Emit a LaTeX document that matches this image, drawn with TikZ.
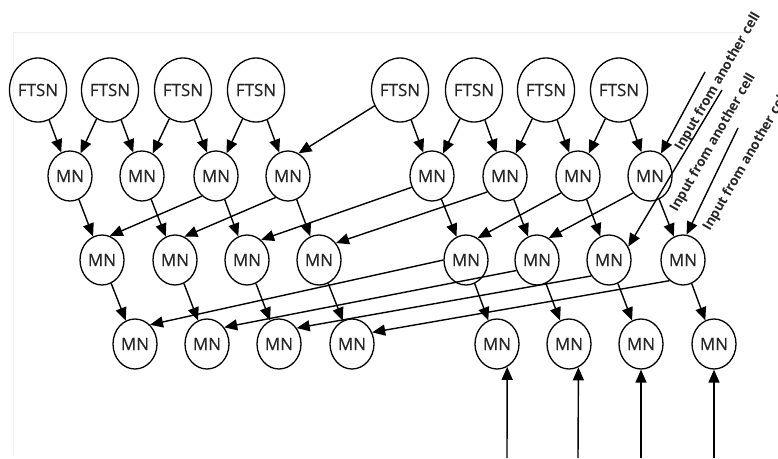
\documentclass[tikz,border=0pt]{standalone}
\usepackage{fontspec}
\setmainfont{Open Sans}
\newfontfamily\labelfont[FakeBold=0.6]{Open Sans}
\usetikzlibrary{shapes.geometric,arrows.meta}

\begin{document}
\begin{tikzpicture}[x=1pt,y=-1pt,
	ftsn/.style={ellipse,draw,line width=1.3pt,minimum width=56pt,minimum height=64pt,inner sep=0pt,font=\labelfont\fontsize{17pt}{20pt}\selectfont,text=black!85},
	mn/.style={ellipse,draw,line width=1.3pt,minimum width=44pt,minimum height=50pt,inner sep=0pt,font=\labelfont\fontsize{17pt}{20pt}\selectfont,text=black!85},
	feed/.style={-{Triangle[length=13pt,width=11pt]},line width=1.4pt},
	celltext/.style={rotate=60,inner sep=0pt,font=\fontsize{13.5pt}{16pt}\selectfont\bfseries,text=black!85}]
		\useasboundingbox (0,0) rectangle (778,458);
		\clip (0,0) rectangle (778,458);
		%faint frame of the scan
		\draw[black!6,line width=1pt] (13,455) -- (13,32) -- (745,32);
		%FTSN row
		\node[ftsn] (f1) at (38,90) {FTSN};
		\node[ftsn] (f2) at (110,90) {FTSN};
		\node[ftsn] (f3) at (183,90) {FTSN};
		\node[ftsn] (f4) at (256,90) {FTSN};
		\node[ftsn] (f5) at (400,90) {FTSN};
		\node[ftsn] (f6) at (474,90) {FTSN};
		\node[ftsn] (f7) at (546,90) {FTSN};
		\node[ftsn] (f8) at (619,90) {FTSN};
		%first MN row
		\node[mn] (a1) at (70,176) {MN};
		\node[mn] (a2) at (142,176) {MN};
		\node[mn] (a3) at (216,176) {MN};
		\node[mn] (a4) at (288,176) {MN};
		\node[mn] (a5) at (432,176) {MN};
		\node[mn] (a6) at (505,176) {MN};
		\node[mn] (a7) at (578,176) {MN};
		\node[mn] (a8) at (650,176) {MN};
		%second MN row
		\node[mn] (b1) at (102,260) {MN};
		\node[mn] (b2) at (175,260) {MN};
		\node[mn] (b3) at (247,260) {MN};
		\node[mn] (b4) at (319,260) {MN};
		\node[mn] (b5) at (466,260) {MN};
		\node[mn] (b6) at (537,260) {MN};
		\node[mn] (b7) at (609,260) {MN};
		\node[mn] (b8) at (683,260) {MN};
		%third MN row
		\node[mn] (c1) at (135,344) {MN};
		\node[mn] (c2) at (207,344) {MN};
		\node[mn] (c3) at (279,344) {MN};
		\node[mn] (c4) at (352,344) {MN};
		\node[mn] (c5) at (497,344) {MN};
		\node[mn] (c6) at (569,344) {MN};
		\node[mn] (c7) at (641,344) {MN};
		\node[mn] (c8) at (714,344) {MN};
		%inputs from another cell
		\coordinate (in1) at (705,72);
		\coordinate (in2) at (722,90);
		\coordinate (in3) at (738,128);
		\coordinate (u5) at (507,458);
		\coordinate (u6) at (578,458);
		\coordinate (u7) at (641,458);
		\coordinate (u8) at (714,458);
		\node[celltext] (t1) at (718,82) {Input from another cell};
		\node[celltext] (t2) at (713,143) {Input from another cell};
		\node[celltext] (t3) at (746,162) {Input from another cell};
		%FTSN to first row
		\draw[feed] (f1) to (a1);
		\draw[feed] (f2) to (a1);
		\draw[feed] (f2) to (a2);
		\draw[feed] (f3) to (a2);
		\draw[feed] (f3) to (a3);
		\draw[feed] (f4) to (a3);
		\draw[feed] (f4) to (a4);
		\draw[feed] (f5) to (a4.65);
		\draw[feed] (f5) to (a5);
		\draw[feed] (f6) to (a5);
		\draw[feed] (f6) to (a6);
		\draw[feed] (f7) to (a6);
		\draw[feed] (f7) to (a7);
		\draw[feed] (f8) to (a7);
		\draw[feed] (f8) to (a8);
		\draw[feed] (in1) to (a8.64);
		%first row to second row
		\draw[feed] (a1) to (b1);
		\draw[feed] (a2) to (b2);
		\draw[feed] (a3) to (b3);
		\draw[feed] (a4) to (b4);
		\draw[feed] (a5) to (b5);
		\draw[feed] (a6) to (b6);
		\draw[feed] (a7) to (b7);
		\draw[feed] (a8) to (b8);
		\draw[feed] (a3.235) to (b1.72);
		\draw[feed] (a4.240) to (b2.68);
		\draw[feed] (a5.209) to (b3.55);
		\draw[feed] (a6.222) to (b4.45);
		\draw[feed] (a7.225) to (b5.62);
		\draw[feed] (a8.225) to (b6.62);
		\draw[feed] (in2) to (b7.35);
		\draw[feed] (in3) to (b8.82);
		%second row to third row
		\draw[feed] (b1) to (c1);
		\draw[feed] (b2) to (c2);
		\draw[feed] (b3) to (c3);
		\draw[feed] (b4) to (c4);
		\draw[feed] (b5) to (c5);
		\draw[feed] (b6) to (c6);
		\draw[feed] (b7) to (c7);
		\draw[feed] (b8) to (c8);
		\draw[feed] (b5.180) to (c1.52);
		\draw[feed] (b6.207) to (c2.44);
		\draw[feed] (b7.222) to (c3.42);
		\draw[feed] (b8.237) to (c4.30);
		%from below
		\draw[feed] (u5) to (c5.-66);
		\draw[feed] (u6) to (c6.-68);
		\draw[feed] (u7) to (c7.south);
		\draw[feed] (u8) to (c8.south);
\end{tikzpicture}
\end{document}
